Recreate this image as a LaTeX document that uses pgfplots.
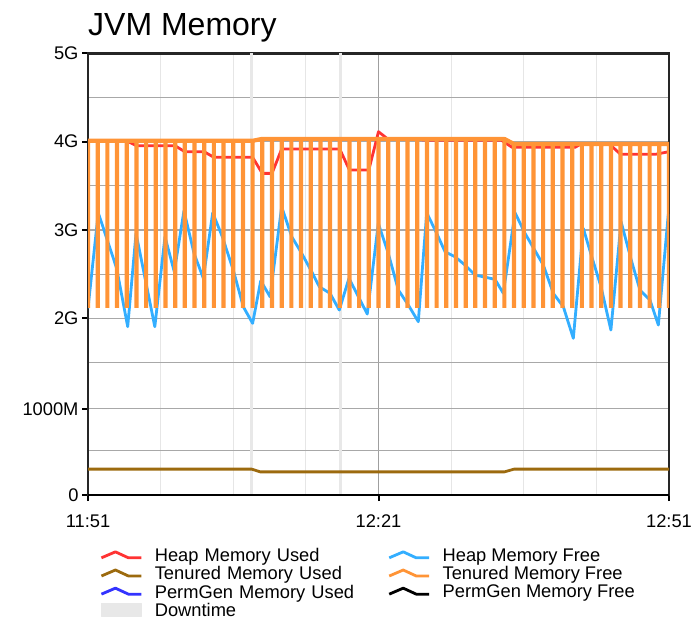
\documentclass[border=0pt]{standalone}
\usepackage{pgfplots}
\pgfplotsset{compat=1.18}
\usepackage{fontspec}
\setmainfont{Liberation Sans}
\definecolor{heapused}{HTML}{FF3333}
\definecolor{heapfree}{HTML}{33AEFF}
\definecolor{tenused}{HTML}{9C6A0E}
\definecolor{tenfree}{HTML}{FF9436}
\definecolor{permused}{HTML}{3333FF}
\definecolor{permfree}{HTML}{000000}
\definecolor{downtime}{HTML}{E8E8E8}
\definecolor{gridc}{HTML}{A8A8A8}
\definecolor{vgrid}{HTML}{E6E6E6}
\begin{document}
\begin{tikzpicture}[x=1pt,y=1pt]
\path[use as bounding box] (0,0) rectangle (698,-621);
\node[anchor=base west, font=\fontsize{32}{36}\selectfont, inner sep=0pt] at (88,-35) {JVM Memory};
\begin{axis}[
  at={(88pt,-495pt)}, anchor=south west,
  scale only axis, width=581pt, height=441.7pt,
  xmin=0, xmax=60, ymin=0, ymax=5120,
  xtick={0,30,60}, xticklabels={11:51,12:21,12:51},
  ytick={0,1000,2048,3072,4096,5120}, yticklabels={0,1000M,2G,3G,4G,5G},
  minor xtick={7.5,15,22.5,37.5,45,52.5},
  minor ytick={512,1536,2560,3584,4608},
  xmajorgrids, xminorgrids, ymajorgrids, yminorgrids,
  major x grid style={color=gray!75, line width=1pt},
  minor x grid style={color=vgrid, line width=1pt},
  major y grid style={color=gridc, line width=1.2pt},
  minor y grid style={color=gridc, line width=1.2pt},
  tick pos=left, tick align=outside,
  major tick length=6pt, minor tick length=0pt,
  tick style={black, line width=2pt},
  axis line style={line width=2.5pt, color=black!85},
  /pgf/number format/assume math mode=true,
  ticklabel style={font=\fontsize{18.3}{20}\selectfont},
  xticklabel style={yshift=-10pt},
  legend columns=2,
  legend cell align=left,
  legend style={draw=none, fill=none, at={(0.0207,-0.121)}, anchor=north west,
    font=\fontsize{18.3}{20}\selectfont, inner sep=0pt, outer sep=0pt,
    row sep=3.4pt, column sep=12pt,
    /tikz/every even column/.append style={column sep=8pt},
    nodes={inner sep=0pt}},
  legend image code/.code={\draw[#1] (0pt,-2pt) -- (14pt,4pt) -- (27pt,-2pt) -- (40pt,-2pt);},
  every axis plot/.append style={line join=round},
]
% Downtime bands
\addplot[fill=downtime, draw=none, forget plot] coordinates {(16.72,5120) (17.02,5120)} \closedcycle;
\addplot[fill=downtime, draw=none, forget plot] coordinates {(25.88,5120) (26.18,5120)} \closedcycle;
% Heap Memory Used
\addplot[heapused, line width=2.8pt] coordinates {
(0,4106)(4,4106)(5,4048)(9,4048)(10,3979)(12,3979)(13,3914)(17,3914)(18,3728)(19,3728)(20,4010)(26,4010)(27,3767)(29,3767)(30,4211)(31,4122)(34,4122)(35,4112)(42.7,4112)(43.8,4030)(50.3,4030)(50.8,4062)(53.9,4062)(55,3949)(58.6,3949)(60,3980)};
\addlegendentry[text width=225pt]{Heap Memory Used}
% Heap Memory Free
\addplot[heapfree, line width=2.8pt] coordinates {
(0,2164)(1.06,3272)(2.96,2627)(4.10,1951)(4.96,3033)(6.9,1951)(7.95,2994)(8.91,2588)(9.91,3295)(10.95,2801)(11.91,2512)(12.88,3272)(13.87,2994)(15.0,2608)(16.04,2182)(17.0,1990)(17.84,2484)(18.8,2298)(20.0,3341)(21.04,2994)(22.07,2801)(23.1,2588)(23.89,2414)(24.99,2338)(25.95,2144)(26.95,2512)(28.84,2098)(29.98,3149)(31.01,2801)(32.05,2376)(33.08,2202)(34.11,2009)(34.98,3272)(36.01,3033)(36.87,2820)(37.9,2762)(38.93,2666)(39.97,2550)(42.03,2500)(42.89,2338)(44.1,3272)(45.13,3033)(47.02,2666)(48.05,2338)(49.09,2182)(50.12,1816)(51.15,3091)(52.02,2762)(52.98,2414)(54.0,1912)(55.05,3168)(56.15,2704)(57.0,2376)(58.04,2260)(58.9,1970)(59.93,3257)};
\addlegendentry{Heap Memory Free}
% Tenured Memory Used
\addplot[tenused, line width=2.8pt] coordinates {
(0,300)(16.9,300)(17.8,268)(43,268)(44,300)(60,300)};
\addlegendentry[text width=225pt]{Tenured Memory Used}
% Tenured Memory Free
\addplot[tenfree, line width=4.2pt, line join=bevel, legend image post style={line width=2.8pt, line join=round}] coordinates {
(0,4106)(0,2170)(0,4106)(1,4106)(1,2170)(1,4106)(2,4106)(2,2170)(2,4106)(3,4106)(3,2170)(3,4106)(4,4106)(4,2170)(4,4106)(5,4106)(5,2170)(5,4106)(6,4106)(6,2170)(6,4106)(7,4106)(7,2170)(7,4106)(8,4106)(8,2170)(8,4106)(9,4106)(9,2170)(9,4106)(10,4106)(10,2170)(10,4106)(11,4106)(11,2170)(11,4106)(12,4106)(12,2170)(12,4106)(13,4106)(13,2170)(13,4106)(14,4106)(14,2170)(14,4106)(15,4106)(15,2170)(15,4106)(16,4106)(16,2170)(16,4106)(17,4106)(17,2170)(17,4106)
(18,4128)(18,2170)(18,4128)(19,4128)(19,2170)(19,4128)(20,4128)(20,2170)(20,4128)(21,4128)(21,2170)(21,4128)(22,4128)(22,2170)(22,4128)(23,4128)(23,2170)(23,4128)(24,4128)(24,2170)(24,4128)(25,4128)(25,2170)(25,4128)(26,4128)(26,2170)(26,4128)(27,4128)(27,2170)(27,4128)(28,4128)(28,2170)(28,4128)(29,4128)(29,2170)(29,4128)(30,4128)(30,2170)(30,4128)(31,4128)(31,2170)(31,4128)(32,4128)(32,2170)(32,4128)(33,4128)(33,2170)(33,4128)(34,4128)(34,2170)(34,4128)(35,4128)(35,2170)(35,4128)(36,4128)(36,2170)(36,4128)(37,4128)(37,2170)(37,4128)(38,4128)(38,2170)(38,4128)(39,4128)(39,2170)(39,4128)(40,4128)(40,2170)(40,4128)(41,4128)(41,2170)(41,4128)(42,4128)(42,2170)(42,4128)(43,4128)(43,2170)(43,4128)
(44,4068)(44,2170)(44,4068)(45,4068)(45,2170)(45,4068)(46,4068)(46,2170)(46,4068)(47,4068)(47,2170)(47,4068)(48,4068)(48,2170)(48,4068)(49,4068)(49,2170)(49,4068)(50,4068)(50,2170)(50,4068)(51,4068)(51,2170)(51,4068)(52,4068)(52,2170)(52,4068)(53,4068)(53,2170)(53,4068)(54,4068)(54,2170)(54,4068)(55,4068)(55,2170)(55,4068)(56,4068)(56,2170)(56,4068)(57,4068)(57,2170)(57,4068)(58,4068)(58,2170)(58,4068)(59,4068)(59,2170)(59,4068)(60,4068)(60,2170)(60,4068)};
\addlegendentry{Tenured Memory Free}
% PermGen Memory Used
\addplot[permused, line width=2.8pt] coordinates {(0,0)(60,0)};
\addlegendentry[text width=225pt]{PermGen Memory Used}
% PermGen Memory Free
\addplot[permfree, line width=2.8pt] coordinates {(0,0)(60,0)};
\addlegendentry{PermGen Memory Free}
% Downtime legend
\addlegendimage{legend image code/.code={\fill[downtime] (0pt,-6pt) rectangle (40pt,7pt);}}
\addlegendentry[text width=225pt]{Downtime}
\end{axis}
\end{tikzpicture}
\end{document}
